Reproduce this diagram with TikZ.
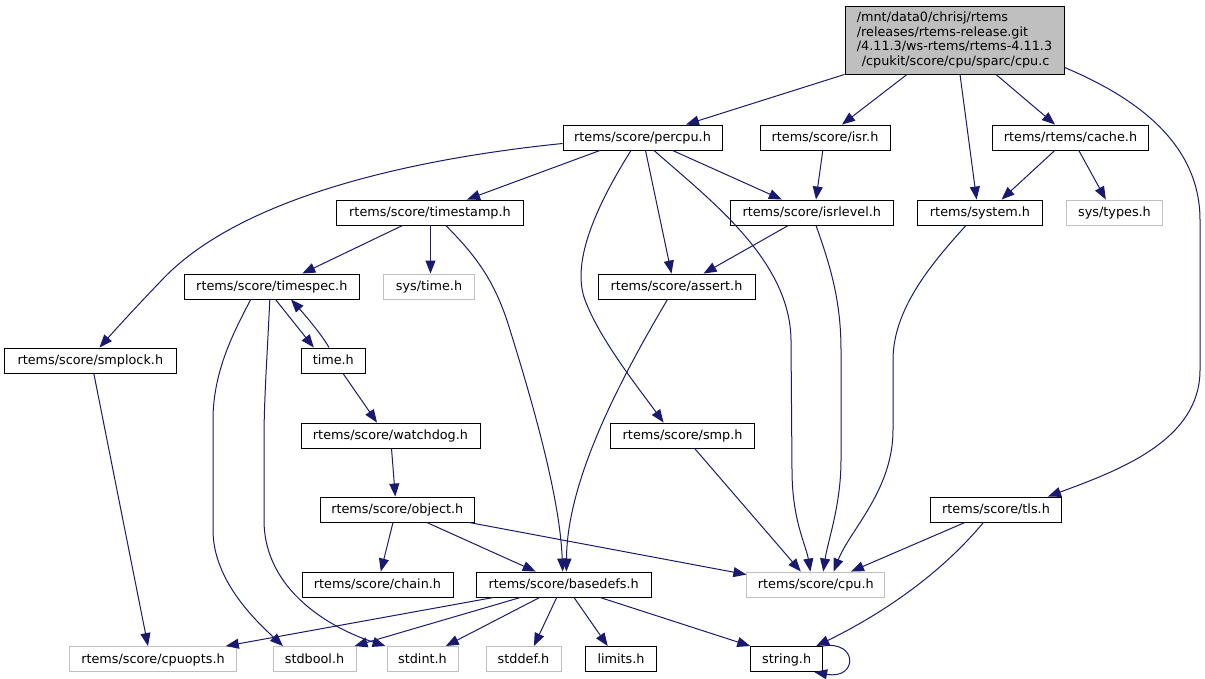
\documentclass[tikz,border=0pt]{standalone}
\usepackage{fontspec}
\setmainfont{DejaVu Sans}
\usetikzlibrary{arrows.meta}
\definecolor{edgeblue}{HTML}{191970}
\definecolor{nodegray}{HTML}{BFBFBF}
\begin{document}
\begin{tikzpicture}[x=1pt,y=-1pt,
  font=\fontsize{12.8}{14.6}\selectfont,
  hdr/.style={draw=black, line width=0.9pt, minimum height=25pt, inner sep=0pt, text height=9.3pt, text depth=1pt},
  sysbox/.style={hdr, draw=nodegray},
  edge/.style={draw=edgeblue, line width=1pt, -{Triangle[length=13pt,width=10pt]}},
]
\useasboundingbox (0,0) rectangle (1205,679);
% row 1
\node[draw=black, line width=0.9pt, fill=nodegray, minimum width=219pt, minimum height=68pt, inner sep=0pt, align=left] (cpuc) at (954.5,40)
  {/mnt/data0/chrisj/rtems\\/releases/rtems-release.git\\/4.11.3/ws-rtems/rtems-4.11.3\\\hspace*{5pt}/cpukit/score/cpu/sparc/cpu.c};
% row 2
\node[hdr, minimum width=159pt] (percpu) at (642.5,137.5) {rtems/score/percpu.h};
\node[hdr, minimum width=130pt] (isr) at (825,137.5) {rtems/score/isr.h};
\node[hdr, minimum width=156pt] (cache) at (1070.5,137.5) {rtems/rtems/cache.h};
% row 3
\node[hdr, minimum width=187pt] (timestamp) at (430,212.5) {rtems/score/timestamp.h};
\node[hdr, minimum width=163pt] (isrlevel) at (811.8,212.5) {rtems/score/isrlevel.h};
\node[hdr, minimum width=125pt] (system) at (980,212.5) {rtems/system.h};
\node[sysbox, minimum width=96pt] (systypes) at (1114.5,212.5) {sys/types.h};
% row 4
\node[hdr, minimum width=174.5pt] (timespec) at (271.8,286.5) {rtems/score/timespec.h};
\node[sysbox, minimum width=91pt] (systime) at (429,286.5) {sys/time.h};
\node[hdr, minimum width=157pt] (assert) at (676.5,286.5) {rtems/score/assert.h};
% row 5
\node[hdr, minimum width=171.4pt] (smplock) at (90.3,360.5) {rtems/score/smplock.h};
\node[hdr, minimum width=64.5pt] (time) at (333.3,360.5) {time.h};
% row 6
\node[hdr, minimum width=179pt] (watchdog) at (390.5,435.5) {rtems/score/watchdog.h};
\node[hdr, minimum width=143.6pt] (smp) at (682.6,435.5) {rtems/score/smp.h};
% row 7
\node[hdr, minimum width=154.5pt] (object) at (397.3,509.5) {rtems/score/object.h};
\node[hdr, minimum width=130.5pt] (tls) at (996,509.5) {rtems/score/tls.h};
% row 8
\node[hdr, minimum width=151pt] (chain) at (377.5,584.5) {rtems/score/chain.h};
\node[hdr, minimum width=175.4pt] (basedefs) at (563.7,584.5) {rtems/score/basedefs.h};
\node[sysbox, minimum width=138pt] (cpuh) at (815.8,584.5) {rtems/score/cpu.h};
% row 9
\node[sysbox, minimum width=167pt] (cpuopts) at (153,659) {rtems/score/cpuopts.h};
\node[sysbox, minimum width=83pt] (stdbool) at (314.5,659) {stdbool.h};
\node[sysbox, minimum width=71pt] (stdint) at (422.5,659) {stdint.h};
\node[sysbox, minimum width=75pt] (stddef) at (523.5,659) {stddef.h};
\node[hdr, minimum width=71pt] (limits) at (621,659) {limits.h};
\node[hdr, minimum width=72pt] (string) at (786.7,659) {string.h};

% edges from cpu.c
\draw[edge] (cpuc.south west) -- ([xshift=43.5pt]percpu.north);
\draw[edge] ([xshift=-47.5pt]cpuc.south) -- ([xshift=17pt]isr.north);
\draw[edge] ([xshift=5.5pt]cpuc.south) -- ([xshift=-3.4pt]system.north);
\draw[edge] ([xshift=41.5pt]cpuc.south) -- ([xshift=-15.5pt]cache.north);
\draw[edge] ([yshift=7pt]cpuc.south east) .. controls (1130,95) and (1200,140) .. (1200,220) -- (1200,370) .. controls (1200,440) and (1120,470) .. ([xshift=52pt]tls.north);
% percpu
\draw[edge] ([xshift=-42.5pt]percpu.south) -- ([xshift=37pt]timestamp.north);
\draw[edge] ([yshift=-6pt]percpu.west) .. controls (420,158) and (240,195) .. (160,282) .. controls (135,308) and (115,330) .. ([xshift=9.2pt]smplock.north);
\draw[edge] ([xshift=3pt]percpu.south) -- ([xshift=-5pt]assert.north);
\draw[edge] ([xshift=30pt]percpu.south) -- ([xshift=-30pt]isrlevel.north);
\draw[edge] ([xshift=11.5pt]percpu.south) .. controls (710,200) and (790,260) .. (791,340) -- (792,470) .. controls (792,520) and (806,545) .. ([xshift=-5.4pt]cpuh.north);
\draw[edge] ([xshift=-11.5pt]percpu.south) .. controls (600,200) and (570,260) .. (585,300) .. controls (600,340) and (640,390) .. ([xshift=-19pt]smp.north);
% isr, cache
\draw[edge] ([xshift=-2.2pt]isr.south) -- ([xshift=4.2pt]isrlevel.north);
\draw[edge] ([xshift=-15.7pt]cache.south) -- ([xshift=21.5pt]system.north);
\draw[edge] ([xshift=8.3pt]cache.south) -- ([xshift=-8.7pt]systypes.north);
% timestamp
\draw[edge] ([xshift=-27.4pt]timestamp.south) -- ([xshift=30.5pt]timespec.north);
\draw[edge] ([xshift=0.5pt]timestamp.south) -- ([xshift=1.5pt]systime.north);
\draw[edge] ([xshift=15.8pt]timestamp.south) .. controls (475,255) and (495,280) .. (510,330) .. controls (535,410) and (560,500) .. ([xshift=-1pt]basedefs.north);
% isrlevel
\draw[edge] ([xshift=-23.4pt]isrlevel.south) -- ([xshift=27pt]assert.north);
\draw[edge] ([xshift=4.2pt]isrlevel.south) .. controls (830,265) and (841,300) .. (841,350) -- (841,460) .. controls (841,505) and (828,540) .. ([xshift=7.4pt]cpuh.north);
% system
\draw[edge] ([xshift=-14pt]system.south) .. controls (930,265) and (893,310) .. (893,360) -- (893,430) .. controls (893,490) and (850,530) .. ([xshift=17.8pt]cpuh.north);
% tls
\draw[edge] ([xshift=-31pt]tls.south) -- ([xshift=35.2pt]cpuh.north);
\draw[edge] ([xshift=-12.6pt]tls.south) .. controls (940,575) and (880,615) .. ([xshift=29.5pt]string.north);
% timespec
\draw[edge] ([xshift=3.7pt]timespec.south) -- ([xshift=-19.5pt]time.north);
\draw[edge] ([xshift=-4.3pt]time.north) .. controls (322,335) and (305,315) .. ([xshift=19.2pt]timespec.south);
\draw[edge] ([xshift=-21.1pt]timespec.south) .. controls (235,330) and (213,370) .. (213,420) -- (213,530) .. controls (213,580) and (255,620) .. ([xshift=-31.5pt]stdbool.north);
\draw[edge] ([xshift=-2pt]timespec.south) .. controls (267,360) and (264,400) .. (264,440) -- (264,520) .. controls (264,590) and (330,628) .. ([xshift=-37pt]stdint.north);
% time, watchdog, smplock, assert
\draw[edge] ([xshift=9.7pt]time.south) -- ([xshift=-13.5pt]watchdog.north);
\draw[edge] ([xshift=1pt]watchdog.south) -- ([xshift=-2pt]object.north);
\draw[edge] ([xshift=3.5pt]smplock.south) -- ([xshift=-5pt]cpuopts.north);
\draw[edge] ([xshift=-9pt]assert.south) .. controls (620,380) and (567,480) .. ([xshift=2.7pt]basedefs.north);
% object
\draw[edge] ([xshift=-4.3pt]object.south) -- ([xshift=3.3pt]chain.north);
\draw[edge] ([xshift=29.4pt]object.south) -- ([xshift=-28pt]basedefs.north);
\draw[edge] ([xshift=71.5pt]object.south) -- ([yshift=-3pt]cpuh.north west);
% smp
\draw[edge] ([xshift=12pt]smp.south) -- ([xshift=-15pt]cpuh.north);
% basedefs
\draw[edge] ([xshift=-70pt]basedefs.south) -- ([xshift=72.8pt]cpuopts.north);
\draw[edge] ([xshift=-43.2pt]basedefs.south) -- ([xshift=40pt]stdbool.north);
\draw[edge] ([xshift=-24pt]basedefs.south) -- ([xshift=23.3pt]stdint.north);
\draw[edge] ([xshift=-7pt]basedefs.south) -- ([xshift=10.4pt]stddef.north);
\draw[edge] ([xshift=10.3pt]basedefs.south) -- ([xshift=-13.3pt]limits.north);
\draw[edge] ([xshift=36.3pt]basedefs.south) -- (string.north west);
% string self loop
\draw[edge] (string.north east) .. controls (858,640) and (858,680) .. ([xshift=-9pt]string.south east);
\end{tikzpicture}
\end{document}
